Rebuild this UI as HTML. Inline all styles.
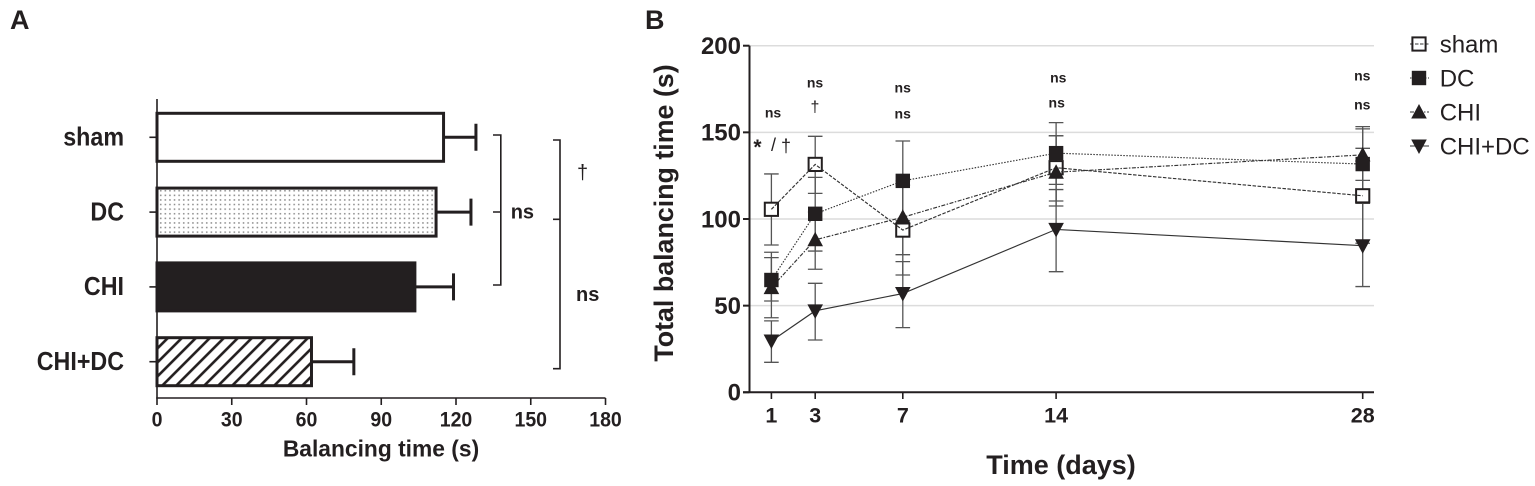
<!DOCTYPE html>
<html lang="en">
<head>
<meta charset="utf-8">
<title>Balancing time chart</title>
<style>
html,body{margin:0;padding:0;background:#fff;width:1535px;height:486px;overflow:hidden}
svg{display:block}
text{font-family:"Liberation Sans",sans-serif;fill:#231f20}
.b{font-weight:700}
</style>
</head>
<body>
<svg id="fig" xmlns="http://www.w3.org/2000/svg" width="1535" height="486" viewBox="0 0 1535 486">
<defs>
<pattern id="dots" patternUnits="userSpaceOnUse" width="4.6" height="4.6" x="159" y="189"><rect x="1" y="1" width="1.5" height="1.5" fill="#888"/></pattern>
<pattern id="hatch" patternUnits="userSpaceOnUse" width="9.9" height="9.9" patternTransform="rotate(45)"><rect width="9.9" height="9.9" fill="#fff"/><rect x="0" y="0" width="2.6" height="9.9" fill="#231f20"/></pattern>
</defs>
<text class="b" x="10" y="29" font-size="27">A</text>
<text class="b" x="645" y="29" font-size="27">B</text>
<g id="panelA"></g>
<g id="panelB"></g>
<text class="b" x="381" y="456.5" font-size="22.8" text-anchor="middle">Balancing time (s)</text>
<text class="b" x="510.7" y="218.5" font-size="20">ns</text>
<text class="b" x="576" y="301" font-size="20">ns</text>
<text x="582.6" y="179" font-size="20" text-anchor="middle">†</text>
<path d="M493 135H500.8V285H493M493 212H500.8" fill="none" stroke="#231f20" stroke-width="1.6"/>
<path d="M553 140H560V368.7H553M553 219.3H560" fill="none" stroke="#231f20" stroke-width="1.6"/>
<text class="b" x="1061" y="474" font-size="27" text-anchor="middle">Time (days)</text>
<text class="b" transform="translate(673 213) rotate(-90)" font-size="26.8" text-anchor="middle">Total balancing time (s)</text>
<g font-size="14">
<text class="b" x="773" y="117.3" font-size="14" text-anchor="middle">ns</text>
<text class="b" x="815" y="87.3" font-size="14" text-anchor="middle">ns</text>
<text x="815" y="112" font-size="16" text-anchor="middle">†</text>
<text class="b" x="902.7" y="92.3" font-size="14" text-anchor="middle">ns</text>
<text class="b" x="902.7" y="118.3" font-size="14" text-anchor="middle">ns</text>
<text class="b" x="1058.3" y="82.3" font-size="14" text-anchor="middle">ns</text>
<text class="b" x="1056.7" y="107.7" font-size="14" text-anchor="middle">ns</text>
<text class="b" x="1362.3" y="80.7" font-size="14" text-anchor="middle">ns</text>
<text class="b" x="1362.3" y="109.3" font-size="14" text-anchor="middle">ns</text>
<text class="b" x="757.5" y="154" font-size="21" text-anchor="middle">*</text>
<text x="773.5" y="151" font-size="18" text-anchor="middle">/</text>
<text x="786" y="152" font-size="18" text-anchor="middle">†</text>
</g>
<g id="legend"></g>
</svg>
<script>
// Panel A data
const groupLabels = ["sham", "DC", "CHI", "CHI+DC"];
const barValues = [115, 112, 103.5, 62];
const barErrors = [13, 14, 15.5, 17];
const xTicksA = [0, 30, 60, 90, 120, 150, 180];

// Panel B data
const days = [1, 3, 7, 14, 28];
const yTicksB = [0, 50, 100, 150, 200];
const gridTicksB = [50, 100, 150, 200];
const shamMean = [105.6, 131.5, 93.6, 129.6, 113.4];
const shamUpper = [126, 147.7, 119.5, 148, 140.8];
const shamLower = [85, 114.8, 67.7, 110.4, 86];
const dcMean = [64.8, 103, 122, 138, 131.7];
const dcUpper = [80.8, 124, 145, 155.6, 153.3];
const dcLower = [52.7, 81.5, 99, 120, 110];
const chiMean = [60.4, 88, 101, 127, 137];
const chiUpper = [77.7, 104, 122, 148, 152];
const chiLower = [43, 71, 79.4, 107.5, 122.3];
const chiDcMean = [29.6, 47, 57, 94, 84.6];
const chiDcUpper = [41.2, 62.9, 75.4, 117, 109];
const chiDcLower = [17.3, 30.2, 37.3, 69.6, 61];

const NS = "http://www.w3.org/2000/svg";
const INK = "#231f20";
function mk(parent, tag, props, txt) {
  const e = document.createElementNS(NS, tag);
  for (const k in props) e.setAttribute(k, props[k]);
  if (txt !== undefined) e.textContent = txt;
  parent.appendChild(e);
  return e;
}

// ---------- Panel A ----------
const pa = document.getElementById("panelA");
const xA = v => 157 + v * 2.4917;
const yA = i => 137.3 + i * 74.8;
const fills = ["#fff", "url(#dots)", INK, "url(#hatch)"];

groupLabels.forEach((g, i) => {
  const y = yA(i);
  const wh = mk(pa, "path", {d: "M" + xA(barValues[i]) + " " + y + "H" + xA(barValues[i] + barErrors[i]) + "M" + xA(barValues[i] + barErrors[i]) + " " + (y - 13.5) + "V" + (y + 13.5), stroke: INK, "stroke-width": 3, fill: "none"});
  
  
  const r = mk(pa, "rect", {x: xA(0), y: y - 24, width: xA(barValues[i]) - xA(0), height: 48, fill: fills[i], stroke: INK, "stroke-width": 3});
  
  
  const t = mk(pa, "path", {d: "M149.4 " + y + "H157", stroke: INK, "stroke-width": 1.6});
  
  
  const l = mk(pa, "text", {transform: "translate(124 " + (y + 8.3) + ") scale(0.95 1.05)", "font-size": 24.5, "text-anchor": "end", class: "b"}, g);
  
  
});
const axisYA = mk(pa, "path", {d: "M157 99V398", stroke: INK, "stroke-width": 1.6, fill: "none"});


const axisXA = mk(pa, "path", {d: "M156.2 398H" + xA(180), stroke: INK, "stroke-width": 1.6, fill: "none"});


xTicksA.forEach(v => {
  const t = mk(pa, "path", {d: "M" + xA(v) + " 398V405", stroke: INK, "stroke-width": 1.6});
  
  
  const l = mk(pa, "text", {transform: "translate(" + xA(v) + " 426.7) scale(0.93 1)", "font-size": 21, "text-anchor": "middle", class: "b"}, v);
  
  
});

// ---------- Panel B ----------
const pb = document.getElementById("panelB");
const xB = d => 749.5 + d * 21.9;
const yB = v => 392.3 - v * 1.733;

gridTicksB.forEach(v => {
  const g = mk(pb, "path", {d: "M749.5 " + yB(v) + "H1374", stroke: "#dcdcdc", "stroke-width": 1.5});
  
  
});

const series = [
  {key: "sham", mean: shamMean, up: shamUpper, lo: shamLower, dash: "3.5 1.5", shape: "open"},
  {key: "DC", mean: dcMean, up: dcUpper, lo: dcLower, dash: "1.5 1.5", shape: "square"},
  {key: "CHI", mean: chiMean, up: chiUpper, lo: chiLower, dash: "4 1.5 1.5 1.5", shape: "up"},
  {key: "CHI+DC", mean: chiDcMean, up: chiDcUpper, lo: chiDcLower, dash: "none", shape: "down"}
];

function marker(parent, shape, cx, cy) {
  if (shape === "open") return mk(parent, "rect", {x: cx - 6.6, y: cy - 6.6, width: 13.2, height: 13.2, fill: "#fff", stroke: INK, "stroke-width": 2});
  if (shape === "square") return mk(parent, "rect", {x: cx - 7.2, y: cy - 7.2, width: 14.4, height: 14.4, fill: INK});
  if (shape === "up") return mk(parent, "path", {d: "M" + cx + " " + (cy - 8) + "L" + (cx + 7.8) + " " + (cy + 6.5) + "H" + (cx - 7.8) + "Z", fill: INK});
  return mk(parent, "path", {d: "M" + cx + " " + (cy + 8) + "L" + (cx + 7.8) + " " + (cy - 6.5) + "H" + (cx - 7.8) + "Z", fill: INK});
}

// error bars
series.forEach(s => {
  days.forEach((d, i) => {
    const x = xB(d);
    const e = mk(pb, "path", {d: "M" + x + " " + yB(s.up[i]) + "V" + yB(s.lo[i]) + "M" + (x - 7.3) + " " + yB(s.up[i]) + "H" + (x + 7.3) + "M" + (x - 7.3) + " " + yB(s.lo[i]) + "H" + (x + 7.3), stroke: "#555", "stroke-width": 1.3, fill: "none"});
    
    
  });
});
// open markers sit beneath their connecting lines
days.forEach((d, i) => {
  const m = marker(pb, "open", xB(d), yB(shamMean[i]));
  
  
});
// connecting lines
series.forEach(s => {
  const pts = days.map((d, i) => xB(d) + "," + yB(s.mean[i])).join(" ");
  const l = mk(pb, "polyline", {points: pts, fill: "none", stroke: "#333", "stroke-width": 1.15, "stroke-dasharray": s.dash});
  
  
});
// solid markers
[series[3], series[2], series[1]].forEach(s => {
  days.forEach((d, i) => {
    const m = marker(pb, s.shape, xB(d), yB(s.mean[i]));
    
    
  });
});

const axisYB = mk(pb, "path", {d: "M749.5 " + yB(200) + "V" + yB(0), stroke: INK, "stroke-width": 2, fill: "none"});


const axisXB = mk(pb, "path", {d: "M743 " + yB(0) + "H1374", stroke: INK, "stroke-width": 2, fill: "none"});


yTicksB.forEach(v => {
  const t = mk(pb, "path", {d: "M743 " + yB(v) + "H749.5", stroke: INK, "stroke-width": 2});
  
  
  const l = mk(pb, "text", {x: 741, y: yB(v) + 8.3, "font-size": 24, "text-anchor": "end", class: "b"}, v);
  
  
});
days.forEach(d => {
  const t = mk(pb, "path", {d: "M" + xB(d) + " " + yB(0) + "V399", stroke: INK, "stroke-width": 1.6});
  
  
  const l = mk(pb, "text", {x: xB(d), y: 422.3, "font-size": 21.5, "text-anchor": "middle", class: "b"}, d);
  
  
});

// ---------- Legend ----------
const lg = document.getElementById("legend");
series.forEach((s, i) => {
  const y = 44 + i * 34;
  const ln = mk(lg, "path", {d: "M1410 " + y + "H1429", stroke: "#333", "stroke-width": 1, "stroke-dasharray": s.dash});
  
  
  const m = marker(lg, s.shape, 1419, y);
  
  
  if (s.shape === "open") m.setAttribute("fill", "none");
  const t = mk(lg, "text", {x: 1439.7, y: y + 8.3, "font-size": 24}, s.key);
  
  
});
</script>
</body>
</html>
